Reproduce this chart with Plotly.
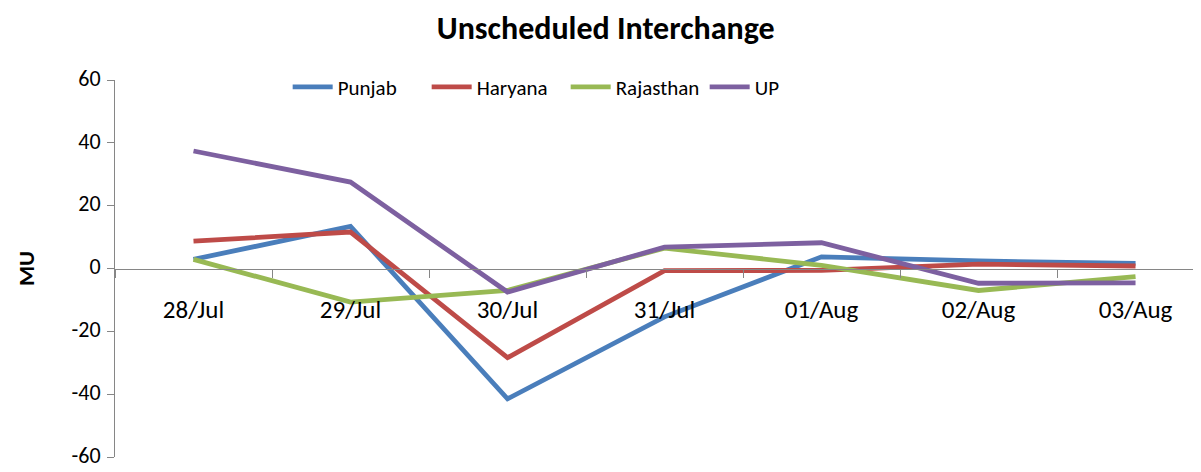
import plotly.graph_objects as go

dates = ["28/Jul", "29/Jul", "30/Jul", "31/Jul", "01/Aug", "02/Aug", "03/Aug"]
punjab = [2.9, 13.4, -41.5, -15.4, 3.7, 2.4, 1.6]
haryana = [8.7, 11.6, -28.4, -0.7, -0.6, 1.4, 0.8]
rajasthan = [2.9, -10.7, -7.0, 6.5, 1.0, -7.0, -2.6]
up = [37.4, 27.5, -7.5, 6.8, 8.2, -4.7, -4.6]

y_ticks = [-60, -40, -20, 0, 20, 40, 60]
y_tick_text = ["-60", "-40", "-20", "0", "20", "40", "60"]

series = [
    ("Punjab", punjab, "#4A7EBB"),
    ("Haryana", haryana, "#BE4B48"),
    ("Rajasthan", rajasthan, "#98B954"),
    ("UP", up, "#7D60A0"),
]

FONT = "Carlito, Lato, 'Liberation Sans', sans-serif"
GRAY = "#868686"

fig = go.Figure()
for name, vals, col in series:
    fig.add_trace(go.Scatter(x=dates, y=vals, name=name, mode="lines",
                             line=dict(color=col, width=4.8)))

xr = [-0.5, 6.417]
fig.update_layout(
    width=1193, height=464,
    margin=dict(l=107, r=0, t=72, b=15, autoexpand=False),
    paper_bgcolor="white", plot_bgcolor="white",
    font=dict(family=FONT, size=21, color="#000000"),
    title=dict(text="<b>Unscheduled Interchange</b>", x=0.501, xanchor="center",
               y=0.958, yanchor="middle", font=dict(size=32)),
    legend=dict(orientation="h", x=0.159, xanchor="left", y=0.981, yanchor="middle",
                font=dict(size=21), itemwidth=40, tracegroupgap=0,
                entrywidth=84, entrywidthmode="pixels",
                bgcolor="rgba(0,0,0,0)"),
    xaxis=dict(type="category", categoryarray=dates, range=xr, automargin=False,
               anchor="free", position=0.5, showline=True, linecolor=GRAY,
               linewidth=1, ticks="outside", ticklen=8, tickcolor=GRAY,
               tickson="boundaries", showgrid=False, zeroline=False,
               ticklabelstandoff=18, tickfont=dict(size=25)),
    xaxis2=dict(type="category", categoryarray=dates, range=xr, automargin=False,
                overlaying="x", anchor="free", position=0.5, showline=False,
                ticks="inside", ticklen=8, tickcolor=GRAY, tickson="boundaries",
                showticklabels=False, showgrid=False, zeroline=False),
    yaxis=dict(range=[-60, 60], tickvals=y_ticks, ticktext=y_tick_text,
               automargin=False,
               showline=True, linecolor=GRAY, ticklabeloverflow="allow",
               ticks="outside", ticklen=7, tickcolor=GRAY, showgrid=False,
               zeroline=False, ticklabelstandoff=2, ticklabelshift=-2,
               tickfont=dict(size=22),
               title=dict(text="<b>MU</b>", font=dict(size=23), standoff=30)),
)

fig.write_html("out.html")
